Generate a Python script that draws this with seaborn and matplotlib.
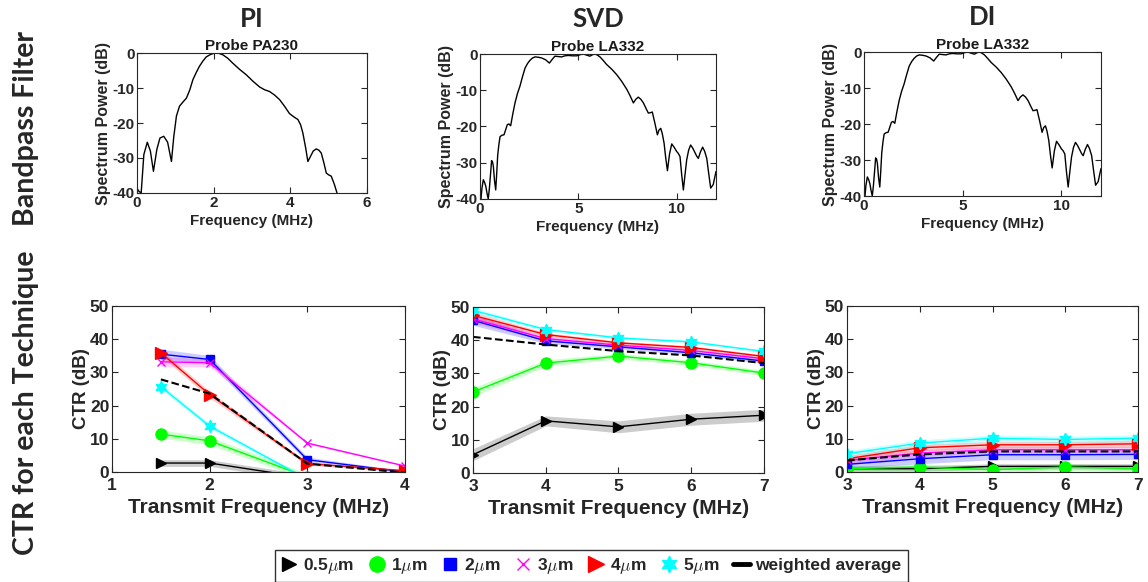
import matplotlib
matplotlib.use("Agg")
import matplotlib.pyplot as plt
from matplotlib.lines import Line2D
import numpy as np
import pandas as pd
import seaborn as sns

# Spectrum of the bandpass filters
pa230_freq = [0.0, 0.02, 0.05, 0.11, 0.18, 0.27, 0.35, 0.43, 0.52, 0.6, 0.7, 0.8, 0.9,
              0.96, 1.03, 1.11, 1.2, 1.29, 1.38, 1.46, 1.55, 1.63, 1.72, 1.81, 1.92,
              2.03, 2.14, 2.24, 2.37, 2.5, 2.67, 2.85, 3.02, 3.2, 3.33, 3.46, 3.59,
              3.72, 3.85, 3.98, 4.1, 4.2, 4.27, 4.33, 4.4, 4.46, 4.53, 4.6, 4.68,
              4.75, 4.81, 4.88, 4.94, 5.0, 5.07, 5.15, 5.22]
pa230_db = [-40, -39, -39.5, -40, -29, -25.5, -28, -33.8, -27.5, -24.3, -23.8, -25.5, -31,
            -24, -18, -15.2, -14, -12.9, -10.5, -7.6, -5.5, -3.8, -2.3, -1.1, -0.4,
            0, -0.1, -0.5, -1.5, -2.9, -4.6, -6.2, -8, -9.7, -10.5, -11, -12,
            -13.3, -15.2, -17.3, -18.3, -19, -20.5, -22.9, -27, -31, -29.5, -28, -27.4,
            -27.8, -28.6, -31.5, -34.3, -34.8, -35.2, -37.5, -40]

la332_freq = [0.05, 0.1, 0.17, 0.24, 0.3, 0.36, 0.42, 0.48, 0.54, 0.59, 0.64, 0.68, 0.74,
              0.8, 0.85, 0.9, 0.96, 1.02, 1.12, 1.22, 1.3, 1.39, 1.47, 1.56, 1.67,
              1.78, 1.9, 2.03, 2.16, 2.29, 2.42, 2.54, 2.67, 2.8, 2.97, 3.14, 3.34,
              3.53, 3.67, 3.81, 3.98, 4.15, 4.32, 4.49, 4.7, 4.92, 5.08, 5.25, 5.42,
              5.59, 5.72, 5.85, 5.97, 6.1, 6.27, 6.44, 6.7, 6.95, 7.2, 7.46, 7.63,
              7.8, 7.92, 8.05, 8.18, 8.31, 8.44, 8.56, 8.66, 8.76, 8.89, 9.02, 9.1,
              9.19, 9.27, 9.36, 9.44, 9.53, 9.64, 9.75, 9.88, 10.0, 10.08, 10.17, 10.25,
              10.34, 10.42, 10.51, 10.61, 10.71, 10.82, 10.93, 11.02, 11.1, 11.21,
              11.32, 11.42, 11.53, 11.63, 11.73, 11.86, 12.0]
la332_db = [-40, -37, -34.7, -35.5, -36.6, -38.5, -40, -37, -32.9, -29.4, -29.8, -31, -35,
            -37.5, -33, -28, -25, -22.8, -22.4, -22.3, -21, -19.5, -19.3, -19.8, -16.5,
            -13.5, -11, -8.9, -6.3, -3.9, -2.6, -1.75, -1.1, -0.8, -0.9, -1.1, -1.6,
            -2.5, -1.5, -0.6, -0.7, -0.8, -0.5, -0.4, -0.5, -0.5, -0.2, 0, -0.3,
            -0.6, -0.2, 0, -0.3, -0.8, -1.8, -2.9, -4.2, -5.7, -7.5, -9.7, -11.5,
            -13.5, -12.5, -11.9, -12.5, -13.5, -15, -16.3, -16.2, -16, -19, -22.3, -21,
            -20.5, -22, -24.6, -28.5, -32.2, -27.5, -24.8, -25.8, -26.9, -27.4, -28.3, -33,
            -37.5, -33.5, -29.2, -26.5, -25.1, -26, -27.2, -28.2, -28.8, -27,
            -25.7, -26.8, -28.8, -33, -37, -36, -32.4]

# CTR per technique: mean and std for each bubble size + weighted average
sizes = ["0.5", "1", "2", "3", "4", "5"]

pi_freq = [1.5, 2, 3, 4]
pi_mean = {
    "0.5": [2.7, 2.7, -1.8, -3.0],
    "1": [11.4, 9.4, -1.5, -3.0],
    "2": [35.5, 33.9, 3.7, 0.0],
    "3": [33.2, 32.9, 8.7, 1.8],
    "4": [35.9, 23.3, 2.5, 0.4],
    "5": [25.7, 13.8, -2.2, -3.0],
}
pi_std = {
    "0.5": [1.0, 1.0, 1.0, 1.0],
    "1": [1.2, 1.2, 1.0, 1.0],
    "2": [1.5, 1.2, 0.8, 0.3],
    "3": [1.5, 1.2, 0.3, 0.2],
    "4": [1.0, 1.0, 0.5, 0.2],
    "5": [0.8, 0.7, 0.5, 0.5],
}
pi_avg = [27.9, 23.6, 2.5, -0.2]

svd_freq = [3, 4, 5, 6, 7]
svd_mean = {
    "0.5": [5.5, 15.7, 13.9, 16.2, 17.4],
    "1": [24.4, 33.1, 35.2, 33.2, 30.1],
    "2": [46.0, 39.8, 38.0, 36.2, 33.7],
    "3": [46.4, 40.5, 38.5, 36.9, 34.4],
    "4": [47.5, 41.7, 39.2, 37.8, 35.1],
    "5": [49.0, 43.2, 40.7, 39.5, 36.6],
}
svd_std = {
    "0.5": [1.8, 1.5, 1.8, 1.8, 1.8],
    "1": [1.3, 1.0, 0.8, 0.8, 0.8],
    "2": [1.5, 0.8, 0.6, 0.6, 0.6],
    "3": [1.2, 0.6, 0.5, 0.5, 0.5],
    "4": [1.0, 0.6, 0.5, 0.5, 0.5],
    "5": [0.8, 0.5, 0.4, 0.4, 0.4],
}
svd_avg = [41.0, 38.7, 36.7, 35.4, 33.1]

di_freq = [3, 4, 5, 6, 7]
di_mean = {
    "0.5": [1.0, 1.0, 1.7, 1.7, 1.7],
    "1": [1.0, 1.5, 0.7, 1.5, 1.0],
    "2": [2.3, 4.0, 5.2, 5.2, 5.3],
    "3": [3.5, 5.7, 6.7, 6.7, 6.7],
    "4": [4.0, 7.3, 8.2, 8.2, 8.5],
    "5": [5.5, 8.7, 10.2, 9.8, 10.2],
}
di_std = {
    "0.5": [0.8, 0.8, 0.8, 0.8, 0.8],
    "1": [0.8, 1.0, 1.0, 1.0, 1.0],
    "2": [1.2, 1.5, 1.5, 1.5, 1.5],
    "3": [1.0, 1.0, 1.0, 1.0, 1.0],
    "4": [1.0, 1.0, 1.0, 1.0, 1.0],
    "5": [1.0, 1.0, 1.0, 1.0, 1.0],
}
di_avg = [3.5, 5.3, 6.2, 6.2, 6.2]

colors = {"0.5": "#000000", "1": "#00ff00", "2": "#0000ff",
          "3": "#ff00ff", "4": "#ff0000", "5": "#00ffff"}
markers = {"0.5": ">", "1": "o", "2": "s", "3": "x", "4": ">", "5": (6, 1, 0)}
msizes = {"0.5": 7, "1": 8, "2": 6, "3": 6, "4": 8, "5": 9}

sns.set_theme(style="ticks")
plt.rcParams["font.family"] = ["Liberation Sans", "DejaVu Sans"]
plt.rcParams["font.weight"] = "bold"
plt.rcParams["axes.labelweight"] = "bold"
plt.rcParams["axes.titleweight"] = "bold"
plt.rcParams["axes.unicode_minus"] = False
plt.rcParams["mathtext.fontset"] = "cm"
plt.rcParams["xtick.direction"] = "in"
plt.rcParams["ytick.direction"] = "in"
plt.rcParams["axes.edgecolor"] = "#262626"
plt.rcParams["axes.linewidth"] = 0.8

fig = plt.figure(figsize=(11.48, 5.82), dpi=100)

top_pos = [[0.1193, 0.6684, 0.2003, 0.2405],
           [0.4181, 0.6581, 0.2056, 0.2491],
           [0.7526, 0.6632, 0.2064, 0.2474]]
bot_pos = [[0.0976, 0.1890, 0.2552, 0.2852],
           [0.4120, 0.1873, 0.2535, 0.2852],
           [0.7378, 0.1890, 0.2535, 0.2852]]

tech_names = ["PI", "SVD", "DI"]
probes = ["Probe PA230", "Probe LA332", "Probe LA332"]
spectra = [(pa230_freq, pa230_db, 6, [0, 2, 4, 6]),
           (la332_freq, la332_db, 12, [0, 5, 10]),
           (la332_freq, la332_db, 12, [0, 5, 10])]


def style_axes(ax, size, xpad, ypad):
    ax.tick_params(which="both", top=True, right=True, labelsize=size,
                   length=4, width=0.8, colors="#262626")
    ax.tick_params(axis="x", pad=xpad)
    ax.tick_params(axis="y", pad=ypad)
    for lab in ax.get_xticklabels() + ax.get_yticklabels():
        lab.set_fontweight("bold")
    for sp in ax.spines.values():
        sp.set_visible(True)


for i in range(3):
    ax = fig.add_axes(top_pos[i])
    f, db, xmax, xt = spectra[i]
    sns.lineplot(x=f, y=db, ax=ax, color="black", lw=1.0, sort=False)
    ax.set_xlim(0, xmax)
    ax.set_ylim(-40, 0)
    ax.set_xticks(xt)
    ax.set_yticks([-40, -30, -20, -10, 0])
    ax.set_xlabel("Frequency (MHz)", fontsize=11, color="#262626", labelpad=3)
    ax.set_ylabel("Spectrum Power (dB)", fontsize=11.5, color="#262626", labelpad=1)
    ax.set_title(probes[i], fontsize=11, pad=2, color="#1a1a1a")
    ax.text(0.5, 1.16, tech_names[i], transform=ax.transAxes, ha="center",
            va="bottom", fontsize=18.5, fontweight="bold", family="Lato")
    style_axes(ax, 11, 2, 1.5)

ctr_sets = [(pi_freq, pi_mean, pi_std, pi_avg, (1, 4), [1, 2, 3, 4]),
            (svd_freq, svd_mean, svd_std, svd_avg, (3, 7), [3, 4, 5, 6, 7]),
            (di_freq, di_mean, di_std, di_avg, (3, 7), [3, 4, 5, 6, 7])]

for i in range(3):
    ax = fig.add_axes(bot_pos[i])
    freq, mean, std, avg, xl, xt = ctr_sets[i]
    for s in sizes:
        m = np.array(mean[s])
        sd = np.array(std[s])
        ax.fill_between(freq, m - sd, m + sd, color=colors[s], alpha=0.2, lw=0)
        sns.lineplot(x=freq, y=m, ax=ax, color=colors[s], lw=1.0,
                     marker=markers[s], markersize=msizes[s],
                     markeredgecolor=colors[s], markeredgewidth=1.0)
    sns.lineplot(x=freq, y=avg, ax=ax, color="black", lw=1.5, linestyle="--",
                 dashes=(4, 2.5))
    ax.set_xlim(*xl)
    ax.set_ylim(0, 50)
    ax.set_xticks(xt)
    ax.set_yticks([0, 10, 20, 30, 40, 50])
    ax.set_xlabel("Transmit Frequency (MHz)", fontsize=15, color="#262626", labelpad=4)
    ax.set_ylabel("CTR (dB)", fontsize=13.5, color="#262626", labelpad=0)
    style_axes(ax, 12.5, 4, 2)

fig.text(0.023, 0.78, "Bandpass Filter", rotation=90, ha="center", va="center",
         fontsize=20.5, fontweight="bold", family="Lato")
fig.text(0.023, 0.308, "CTR for each Technique", rotation=90, ha="center",
         va="center", fontsize=20.5, fontweight="bold", family="Lato")

handles = []
labels = []
for s in sizes:
    handles.append(Line2D([], [], linestyle="none", marker=markers[s],
                          color=colors[s], markersize=msizes[s] + 3))
    labels.append(s + r"$\mu$m")
handles.append(Line2D([], [], color="black", lw=3.5))
labels.append("weighted average")
leg = fig.legend(handles, labels, loc="center", bbox_to_anchor=(0.515, 0.028),
                 ncol=7, frameon=True, fancybox=False, fontsize=12.5,
                 handlelength=1.0, handletextpad=0.3, columnspacing=0.8,
                 borderpad=0.35)
leg.get_frame().set_edgecolor("black")
leg.get_frame().set_linewidth(1.0)
for t in leg.get_texts():
    t.set_fontweight("bold")

fig.savefig("out.png", dpi=100)
